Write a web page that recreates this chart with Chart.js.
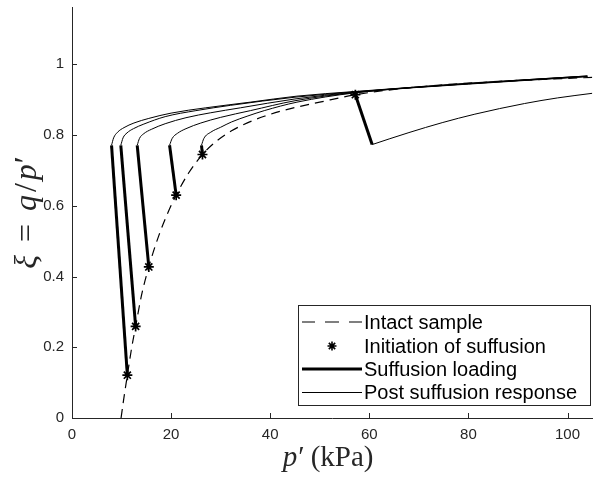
<!DOCTYPE html>
<html>
<head>
<meta charset="utf-8">
<script src="https://cdn.jsdelivr.net/npm/chart.js@4.4.1/dist/chart.umd.min.js"></script>
<style>
  html, body { margin: 0; padding: 0; background: #fff; }
  #wrap { width: 599px; height: 482px; }
</style>
</head>
<body>
<div id="wrap"><canvas id="chart1" width="599" height="482"></canvas></div>
<script>
// tick positions
const xTicks = [0, 20, 40, 60, 80, 100];
const yTicks = [0, 0.2, 0.4, 0.6, 0.8, 1];

// intact sample (dashed curve)
const intactP  = [9.9, 10.4, 11.17, 12.0, 12.84, 14.0, 15.5, 17.5, 19.5, 21.02, 23.5, 26.33, 29, 32.2, 35.5, 38.8, 42, 45.4, 50, 57.18, 65, 75, 88, 105];
const intactXi = [0, 0.05, 0.121, 0.195, 0.259, 0.345, 0.427, 0.515, 0.585, 0.63, 0.692, 0.745, 0.781, 0.812, 0.835, 0.853, 0.867, 0.879, 0.893, 0.914, 0.929, 0.942, 0.953, 0.963];

// initiation of suffusion (stars)
const startP  = [11.17, 12.84, 15.5, 21.02, 26.33, 57.18];
const startXi = [0.121, 0.259, 0.427, 0.63, 0.745, 0.914];

// end of suffusion loading (thick segments run star -> end)
const loadEndP  = [7.98, 9.85, 13.16, 19.69, 26.13, 60.57];
const loadEndXi = [0.771, 0.771, 0.771, 0.771, 0.771, 0.773];

// post suffusion responses
const postA_P  = [7.98, 8.4, 9.2, 10.5, 12.5, 15.5, 20, 27, 36, 45.4, 57, 80, 104];
const postA_Xi = [0.771, 0.792, 0.808, 0.821, 0.834, 0.847, 0.862, 0.877, 0.893, 0.910, 0.923, 0.946, 0.967];
const postB_P  = [9.85, 10.3, 11.1, 12.4, 14.5, 18.8, 25, 32, 45, 57, 80, 104];
const postB_Xi = [0.771, 0.792, 0.806, 0.818, 0.831, 0.852, 0.869, 0.884, 0.907, 0.922, 0.946, 0.967];
const postC_P  = [13.16, 13.6, 14.5, 16, 18.8, 23, 28, 34, 45, 57, 80, 104];
const postC_Xi = [0.771, 0.79, 0.804, 0.816, 0.832, 0.849, 0.863, 0.877, 0.902, 0.921, 0.945, 0.966];
const postD_P  = [19.69, 20.2, 21.3, 23, 26, 30, 36, 45, 57, 80, 104];
const postD_Xi = [0.771, 0.79, 0.805, 0.818, 0.834, 0.85, 0.869, 0.897, 0.92, 0.945, 0.966];
const postE_P  = [26.13, 26.6, 28, 30, 32.2, 35.5, 38.8, 45.4, 57, 80, 104];
const postE_Xi = [0.771, 0.79, 0.808, 0.822, 0.837, 0.854, 0.869, 0.893, 0.919, 0.944, 0.965];
const postF_P  = [60.57, 64, 68, 74.7, 81.3, 91.3, 98, 105];
const postF_Xi = [0.773, 0.789, 0.807, 0.835, 0.859, 0.889, 0.905, 0.918];

const legendLabels = ['Intact sample', 'Initiation of suffusion', 'Suffusion loading', 'Post suffusion response'];

const pts = (xs, ys) => xs.map((x, i) => ({ x: x, y: ys[i] }));

const datasets = [];
datasets.push({
  data: pts(intactP, intactXi), showLine: true, borderColor: '#000', borderWidth: 1.2,
  borderDash: [9, 6], cubicInterpolationMode: 'monotone', pointRadius: 0
});
[[postA_P, postA_Xi], [postB_P, postB_Xi], [postC_P, postC_Xi], [postD_P, postD_Xi], [postE_P, postE_Xi], [postF_P, postF_Xi]]
  .forEach(c => datasets.push({
    data: pts(c[0], c[1]), showLine: true, borderColor: '#000', borderWidth: 1,
    cubicInterpolationMode: 'monotone', pointRadius: 0
  }));
startP.forEach((p, i) => datasets.push({
  data: [{ x: p, y: startXi[i] }, { x: loadEndP[i], y: loadEndXi[i] }],
  showLine: true, borderColor: '#000', borderWidth: 3, pointRadius: 0
}));
datasets.push({
  data: pts(startP, startXi), showLine: false, pointStyle: 'star',
  pointRadius: 5, borderColor: '#000', borderWidth: 1.7
});

const AX = '#262626';

// inward tick marks, like matlab
const tickPlugin = {
  id: 'inTicks',
  afterDraw(chart) {
    const ctx = chart.ctx, a = chart.chartArea;
    const xs = chart.scales.x, ys = chart.scales.y;
    ctx.save();
    ctx.strokeStyle = AX; ctx.lineWidth = 1;
    ctx.beginPath();
    xTicks.forEach(v => {
      const px = Math.round(xs.getPixelForValue(v)) + 0.5;
      ctx.moveTo(px, a.bottom); ctx.lineTo(px, a.bottom - 5);
    });
    yTicks.forEach(v => {
      const py = Math.round(ys.getPixelForValue(v)) + 0.5;
      ctx.moveTo(a.left, py); ctx.lineTo(a.left + 5, py);
    });
    ctx.stroke();
    ctx.restore();
  }
};

// parts: [text, italic, gap after]
function drawParts(ctx, parts, size) {
  const f = p => (p[1] ? 'italic ' : '') + size + 'px "Liberation Serif"';
  let w = 0;
  parts.forEach(p => { ctx.font = f(p); w += ctx.measureText(p[0]).width + (p[2] || 0); });
  let x = -w / 2;
  parts.forEach(p => {
    ctx.font = f(p);
    ctx.fillText(p[0], x, 0);
    x += ctx.measureText(p[0]).width + (p[2] || 0);
  });
}

const titlePlugin = {
  id: 'axisTitles',
  afterDraw(chart) {
    const ctx = chart.ctx, a = chart.chartArea;
    ctx.save();
    ctx.fillStyle = AX; ctx.textBaseline = 'alphabetic'; ctx.textAlign = 'left';
    ctx.translate((a.left + a.right) / 2 - 4, 466);
    drawParts(ctx, [['p', true, 1], ['\u2032', false, 6], ['(kPa)', false, 0]], 29);
    ctx.restore();
    ctx.save();
    ctx.fillStyle = AX; ctx.textBaseline = 'alphabetic'; ctx.textAlign = 'left';
    ctx.translate(36, (a.top + a.bottom) / 2);
    ctx.rotate(-Math.PI / 2);
    drawParts(ctx, [['\u03BE', true, 13], ['=', false, 13], ['q', true, 3], ['/', false, 3], ['p', true, 1], ['\u2032', false, 0]], 32);
    ctx.restore();
  }
};

const legendPlugin = {
  id: 'boxLegend',
  afterDraw(chart) {
    const ctx = chart.ctx;
    const x0 = 298, y0 = 305, x1 = 590, y1 = 405;
    const rows = [322, 346, 369, 392];
    const s0 = 302, s1 = 362;
    ctx.save();
    ctx.fillStyle = '#fff';
    ctx.fillRect(x0, y0, x1 - x0, y1 - y0);
    ctx.strokeStyle = AX; ctx.lineWidth = 1;
    ctx.strokeRect(x0 + 0.5, y0 + 0.5, x1 - x0, y1 - y0);
    ctx.strokeStyle = '#000';
    // dashed
    ctx.lineWidth = 1.2;
    ctx.beginPath();
    [[s0, s0 + 13], [s0 + 23, s0 + 37], [s0 + 47, s1]].forEach(d => { ctx.moveTo(d[0], rows[0]); ctx.lineTo(d[1], rows[0]); });
    ctx.stroke();
    // star
    const cx = (s0 + s1) / 2, cy = rows[1], r = 4.5;
    ctx.lineWidth = 1.6;
    ctx.beginPath();
    ctx.moveTo(cx - r, cy); ctx.lineTo(cx + r, cy);
    ctx.moveTo(cx, cy - r); ctx.lineTo(cx, cy + r);
    const d = r * 0.7071;
    ctx.moveTo(cx - d, cy - d); ctx.lineTo(cx + d, cy + d);
    ctx.moveTo(cx - d, cy + d); ctx.lineTo(cx + d, cy - d);
    ctx.stroke();
    // thick
    ctx.lineWidth = 3;
    ctx.beginPath(); ctx.moveTo(s0, rows[2]); ctx.lineTo(s1, rows[2]); ctx.stroke();
    // thin
    ctx.lineWidth = 1;
    ctx.beginPath(); ctx.moveTo(s0, rows[3] + 0.5); ctx.lineTo(s1, rows[3] + 0.5); ctx.stroke();
    ctx.fillStyle = '#000';
    ctx.font = '20px "Liberation Sans"';
    ctx.textBaseline = 'middle';
    legendLabels.forEach((t, i) => ctx.fillText(t, s1 + 2, rows[i] + 1));
    ctx.restore();
  }
};

const noPad = s => { s.paddingTop = 0; s.paddingBottom = 0; s.paddingLeft = 0; s.paddingRight = 0; };

const ctx = document.getElementById('chart1').getContext('2d');
new Chart(ctx, {
  type: 'scatter',
  data: { datasets: datasets },
  options: {
    responsive: false,
    animation: false,
    devicePixelRatio: 1,
    layout: { padding: { top: 7, right: 0, left: 0, bottom: 0 } },
    plugins: { legend: { display: false }, tooltip: { enabled: false } },
    scales: {
      x: {
        type: 'linear', min: 0, max: 105,
        grid: { display: false, drawTicks: false },
        border: { display: true, color: AX, width: 1 },
        ticks: { color: AX, padding: 8, font: { family: 'Liberation Sans', size: 15 }, maxRotation: 0 },
        afterBuildTicks: s => { s.ticks = xTicks.map(v => ({ value: v })); },
        afterFit: s => { s.height = 64; noPad(s); }
      },
      y: {
        type: 'linear', min: 0, max: 1.162,
        grid: { display: false, drawTicks: false },
        border: { display: true, color: AX, width: 1 },
        ticks: { color: AX, padding: 8, font: { family: 'Liberation Sans', size: 15 },
          callback: v => String(Math.round(v * 10) / 10) },
        afterBuildTicks: s => { s.ticks = yTicks.map(v => ({ value: v })); },
        afterFit: s => { s.width = 72; noPad(s); }
      }
    }
  },
  plugins: [tickPlugin, titlePlugin, legendPlugin]
});
</script>
</body>
</html>
